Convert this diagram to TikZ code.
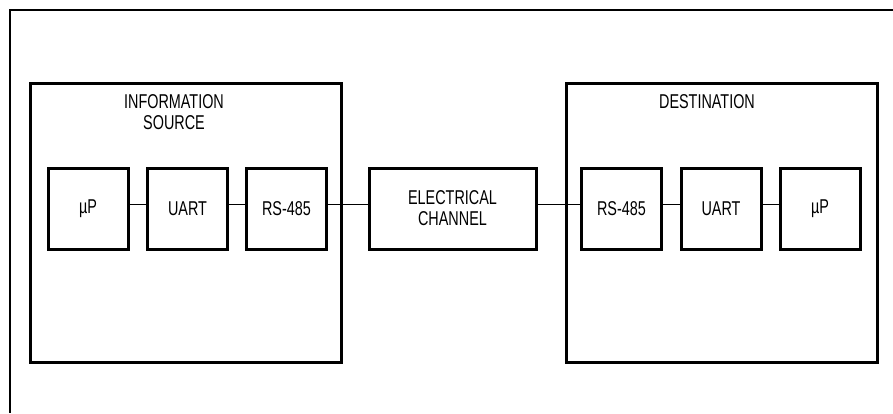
\documentclass[tikz,border=0pt]{standalone}
\usepackage{fontspec}
\setmainfont{Liberation Sans}[FakeStretch=0.72]
\usepackage{tikz}
\usetikzlibrary{positioning,calc}

\begin{document}
\begin{tikzpicture}[
      x=1pt, y=-1pt,
      every node/.style={font=\fontsize{20}{21}\selectfont},
      group/.style={draw, line width=3pt, inner sep=0pt, minimum width=311pt, minimum height=279pt},
      unit/.style={draw, line width=3pt, inner sep=0pt, minimum width=80pt, minimum height=81pt, align=center},
      caption/.style={anchor=north, align=center},
      wire/.style={line width=1pt}]
    \useasboundingbox (0,0) rectangle (893,413);
    \draw[line width=1.3pt] (893,10) -- (10,10) -- (10,413);
    % source side
    \node[group] (source) at (186,222.5) {};
    \node[caption] (sourcelbl) at (174,91) {INFORMATION\\SOURCE};
    \node[unit] (upa)   at (88,208.5)    {µP};
    \node[unit] (uarta) at (187.5,208.5) {UART};
    \node[unit] (rsa)   at (286.5,208.5) {RS-485};
    % channel
    \node[unit, minimum width=167pt] (chan) at (452.5,208.5) {ELECTRICAL\\CHANNEL};
    % destination side
    \node[group] (dest) at (721.5,222.5) {};
    \node[caption] (destlbl) at (707,91) {DESTINATION};
    \node[unit] (rsb)   at (621.5,208.5) {RS-485};
    \node[unit] (uartb) at (721,208.5)   {UART};
    \node[unit] (upb)   at (820,208.5)   {µP};
    % wires
    \draw[wire] ([yshift=4.5pt]upa.east) -- ([yshift=4.5pt]uarta.west);
    \draw[wire] ([yshift=4.5pt]uarta.east) -- ([yshift=4.5pt]rsa.west);
    \draw[wire] ([yshift=4.5pt]rsa.east) -- ([yshift=4.5pt]chan.west);
    \draw[wire] ([yshift=4.5pt]chan.east) -- ([yshift=4.5pt]rsb.west);
    \draw[wire] ([yshift=4.5pt]rsb.east) -- ([yshift=4.5pt]uartb.west);
    \draw[wire] ([yshift=4.5pt]uartb.east) -- ([yshift=4.5pt]upb.west);
  \end{tikzpicture}
\end{document}
